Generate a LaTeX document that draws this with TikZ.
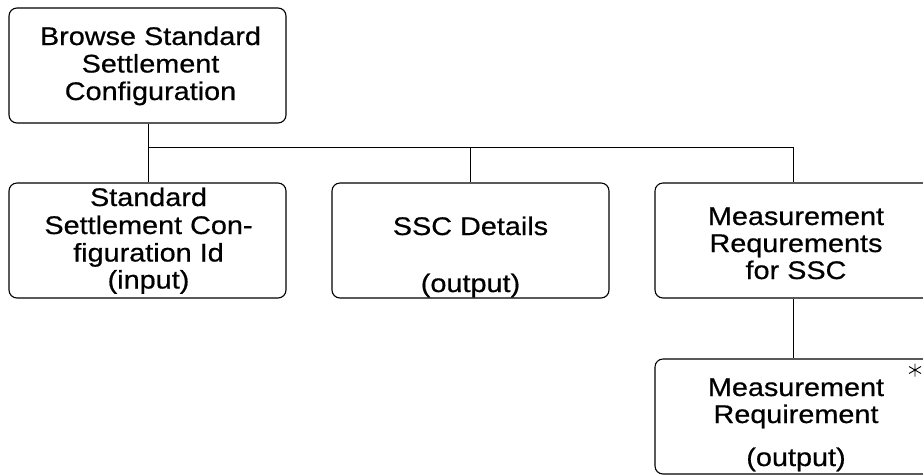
\documentclass[tikz,border=0pt]{standalone}
\usepackage{fontspec}
\usetikzlibrary{calc}
\newfontfamily\boxfont[FakeStretch=1.13,FakeBold=0.6]{Liberation Sans}
\begin{document}
\begin{tikzpicture}[x=1pt,y=-1pt,
  boxst/.style={draw=black,line width=1.1pt,rounded corners=8pt,minimum width=277pt,minimum height=115pt,inner sep=0pt},
  txt/.style={anchor=base,inner sep=0pt,font=\boxfont\fontsize{25.5pt}{27.5pt}\selectfont},
  link/.style={draw=black,line width=1pt}]
\useasboundingbox (0,0) rectangle (923,475);
\clip (0,0) rectangle (923,475);
% boxes
\node[boxst] (top) at (147.5,65.5) {};
\node[boxst] (a) at (147.5,240.5) {};
\node[boxst] (b) at (470.5,240.5) {};
\node[boxst] (c) at (793.5,240.5) {};
\node[boxst] (d) at (793.5,416.5) {};
% texts
\node[txt] (t1) at (150.5,45) {Browse Standard};
\node[txt] (t2) at (150.5,72.5) {Settlement};
\node[txt] (t3) at (150.5,100) {Configuration};
\node[txt] (a1) at (148.5,206) {Standard};
\node[txt] (a2) at (148.5,234) {Settlement Con-};
\node[txt] (a3) at (148.5,261.5) {figuration Id};
\node[txt] (a4) at (148.5,288.5) {(input)};
\node[txt] (b1) at (470.5,235) {SSC Details};
\node[txt] (b2) at (470.5,292) {(output)};
\node[txt] (c1) at (796,225) {Measurement};
\node[txt] (c2) at (796,252) {Requrements};
\node[txt] (c3) at (796,279) {for SSC};
\node[txt] (d1) at (796,396) {Measurement};
\node[txt] (d2) at (796,423) {Requirement};
\node[txt] (d3) at (796,466) {(output)};
% multiplicity star
\coordinate (star) at (915,370);
\draw[line width=0.9pt] ($(star)+(0,-6.5)$) -- ($(star)+(0,6.5)$)
  ($(star)+(-6,-3.5)$) -- ($(star)+(6,3.5)$)
  ($(star)+(-6,3.5)$) -- ($(star)+(6,-3.5)$);
% connectors
\coordinate (j) at (148,147);
\draw[link] (top.south -| j) -- (j) -- (j -| c.north) -- (c.north);
\draw[link] (j) -- (a.north -| j);
\draw[link] (j -| b.north) -- (b.north);
\draw[link] (c.south) -- (d.north);
\end{tikzpicture}
\end{document}
